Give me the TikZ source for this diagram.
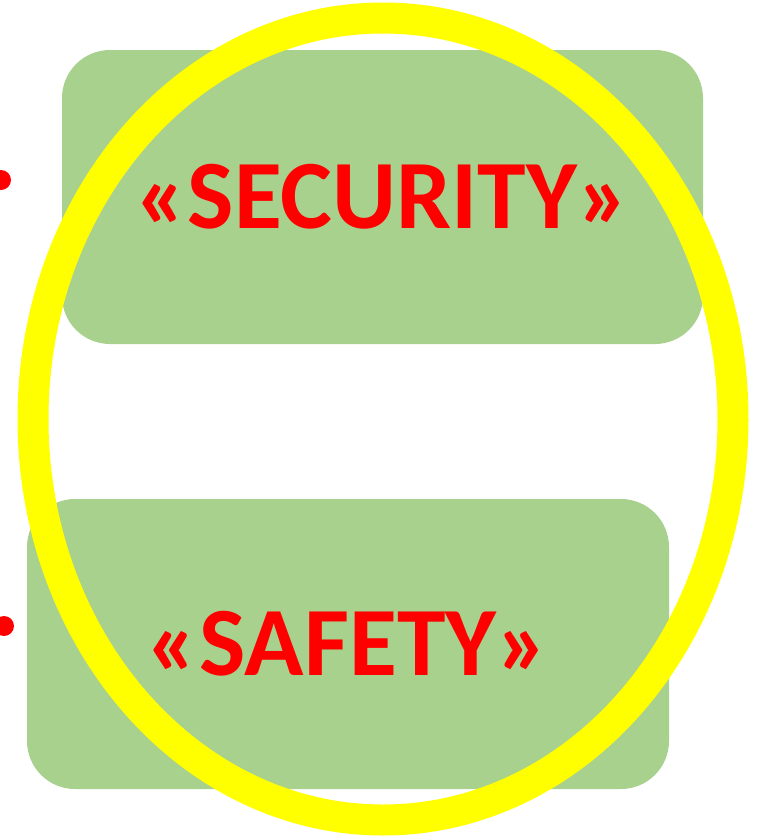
\documentclass[tikz,border=0pt]{standalone}
\usepackage{fontspec}
\setmainfont{Carlito}
\definecolor{boxgreen}{HTML}{A9D18E}
\definecolor{ringyellow}{HTML}{FFFF00}

\begin{document}
\begin{tikzpicture}[x=1pt, y=-1pt,
  box/.style={fill=boxgreen, rounded corners=48pt, inner sep=0pt,
    text=red, font=\bfseries\fontsize{98}{98}\selectfont}]
  % Frame
  \useasboundingbox (0,0) rectangle (759,836);
  \clip (0,0) rectangle (759,836);

  % Boxes
  \node[box, minimum width=641pt, minimum height=294pt] (security) at (382.5,197) {«SECURITY»};
  \node[box, minimum width=642pt, minimum height=290pt] (safety)   at (348,644)   {«SAFETY»};

  % Ring round both
  \draw[ringyellow, line width=31pt] (383,419) ellipse (350pt and 401pt);

  % Bullets
  \fill[red] (1,180) circle (10pt);
  \fill[red] (4,626) circle (10pt);
\end{tikzpicture}
\end{document}
